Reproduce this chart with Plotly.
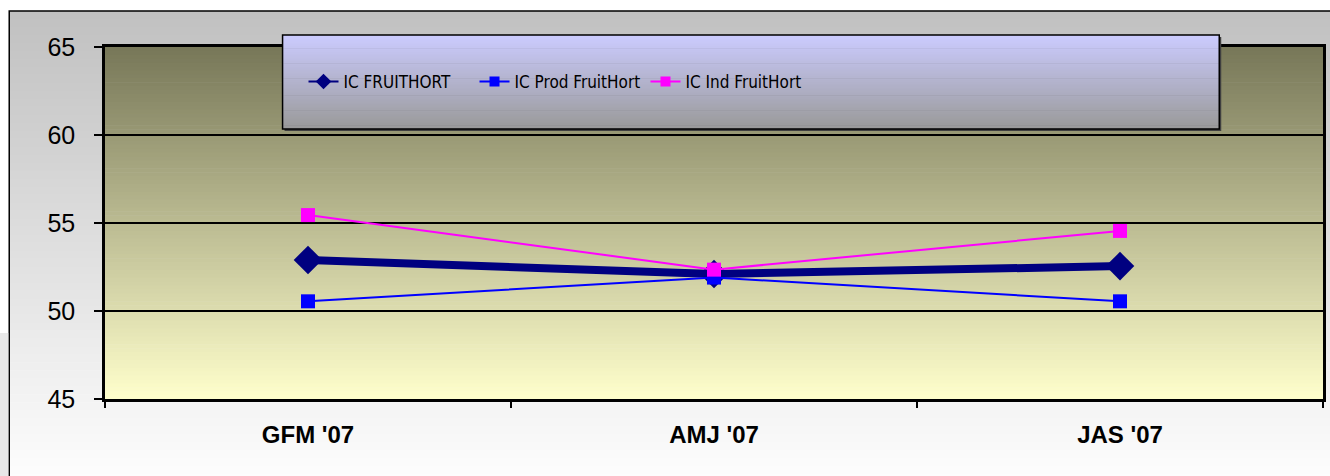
import plotly.graph_objects as go

categories = ["GFM '07", "AMJ '07", "JAS '07"]
ic_fruithort = [52.9, 52.1, 52.55]
ic_prod = [50.55, 51.9, 50.55]
ic_ind = [55.45, 52.35, 54.55]
series_names = ["IC FRUITHORT", "IC Prod FruitHort", "IC Ind FruitHort"]
y_ticks = [45, 50, 55, 60, 65]

W, H = 1330, 476
L, R, T, B = 105, 1326, 47, 399
pw, ph = R - L, B - T

def px(x):
    return (x - L) / pw

def py(y):
    return (B - y) / ph

def lerp(c1, c2, t):
    return "rgb(%d,%d,%d)" % tuple(round(a + (b - a) * t) for a, b in zip(c1, c2))

shapes = []

def gradient(x0, y0, x1, y1, ctop, cbot, n, layer):
    step = (y1 - y0) / n
    for i in range(n):
        ya = y0 + i * step
        yb = y0 + (i + 1) * step + 0.6
        shapes.append(dict(type="rect", xref="paper", yref="paper",
                           x0=px(x0), x1=px(x1), y0=py(ya), y1=py(min(yb, y1)),
                           fillcolor=lerp(ctop, cbot, (i + 0.5) / n),
                           line=dict(width=0), layer=layer))

# outer chart area gradient
gradient(9, 11, 1345, 490, (192, 192, 192), (255, 255, 255), 60, "below")
shapes.append(dict(type="rect", xref="paper", yref="paper", x0=px(9), x1=px(1345),
                   y0=py(11), y1=py(490), line=dict(color="black", width=1.5),
                   layer="below"))
# left grey strip
shapes.append(dict(type="rect", xref="paper", yref="paper", x0=px(-5), x1=px(8),
                   y0=py(333), y1=py(490), fillcolor="#e8e8e8",
                   line=dict(width=0), layer="below"))
# plot area gradient
gradient(L, T, R, B, (119, 119, 88), (255, 255, 204), 90, "below")

# legend box with shadow
shapes.append(dict(type="rect", xref="paper", yref="paper", x0=px(285), x1=px(1224),
                   y0=py(37), y1=py(131), fillcolor="#404040",
                   line=dict(width=0), layer="above"))
gradient(283, 35, 1222, 129, (204, 204, 255), (153, 153, 153), 50, "above")
shapes.append(dict(type="rect", xref="paper", yref="paper", x0=px(283), x1=px(1222),
                   y0=py(35), y1=py(129), line=dict(color="black", width=1.5),
                   layer="above"))

colors = ["#000080", "#0000ff", "#ff00ff"]
symbols = ["diamond", "square", "square"]
widths = [8, 2, 2]
sizes = [22, 14, 14]
values = [ic_fruithort, ic_prod, ic_ind]

fig = go.Figure()
for name, vals, c, s, w, sz in zip(series_names, values, colors, symbols, widths, sizes):
    fig.add_trace(go.Scatter(x=categories, y=vals, name=name, mode="lines+markers",
                             legendgroup=name, showlegend=False,
                             line=dict(color=c, width=w),
                             marker=dict(symbol=s, size=sz, color=c)))
# legend entries (thin line + small marker as in the original legend)
for name, c, s in zip(series_names, colors, symbols):
    fig.add_trace(go.Scatter(x=[None], y=[None], name=name, mode="lines+markers",
                             legendgroup=name, showlegend=True,
                             line=dict(color=c, width=2),
                             marker=dict(symbol=s, size=12 if s == "diamond" else 10, color=c)))

font_main = "Liberation Sans, Arial, sans-serif"
fig.update_layout(
    width=W, height=H,
    margin=dict(l=L, r=W - R, t=T, b=H - B, pad=0),
    paper_bgcolor="white",
    plot_bgcolor="rgba(0,0,0,0)",
    font=dict(family=font_main, size=24, color="black"),
    shapes=shapes,
    showlegend=True,
    legend=dict(orientation="h", x=px(304), xanchor="left", y=py(82), yanchor="middle",
                bgcolor="rgba(0,0,0,0)", borderwidth=0,
                font=dict(family="DejaVu Sans Condensed, DejaVu Sans, sans-serif",
                          size=17, color="black"),
                entrywidth=126, entrywidthmode="pixels", itemwidth=30),
)
fig.update_xaxes(type="category", range=[-0.5, 2.5], showgrid=False,
                 showline=True, linecolor="black", linewidth=2.5, mirror=True,
                 ticks="outside", ticklen=6, tickcolor="black", tickwidth=1.5,
                 tickson="boundaries",
                 tickfont=dict(family=font_main, size=24),
                 ticklabelstandoff=12,
                 tickvals=categories, ticktext=["<b>%s</b>" % c for c in categories])
fig.update_yaxes(range=[45, 65], tickvals=y_ticks, showgrid=True, gridcolor="black",
                 gridwidth=2, showline=True, linecolor="black", linewidth=2.5,
                 mirror=True, ticks="outside", ticklen=8, tickcolor="black", tickwidth=1.5,
                 ticklabelstandoff=14, zeroline=False,
                 tickfont=dict(family=font_main, size=25))

fig.write_html("out.html", config={"displayModeBar": False},
               post_script="document.body.style.margin='0';")
